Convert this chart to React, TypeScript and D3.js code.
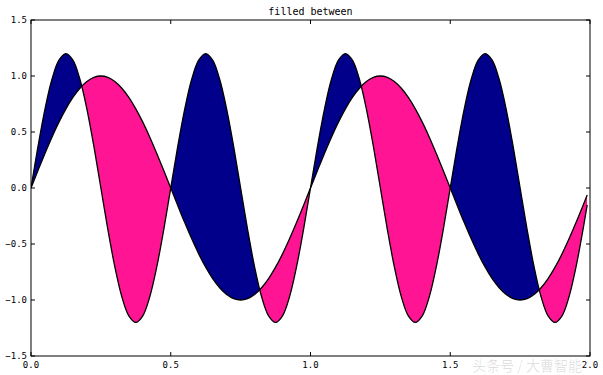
import * as d3 from "d3";

// x samples (last point is 1.99 like arange(0, 2, 0.01))
const xs = [
  0, 0.025, 0.05, 0.075, 0.1, 0.125, 0.15, 0.175, 0.2, 0.225,
  0.25, 0.275, 0.3, 0.325, 0.35, 0.375, 0.4, 0.425, 0.45, 0.475,
  0.5, 0.525, 0.55, 0.575, 0.6, 0.625, 0.65, 0.675, 0.7, 0.725,
  0.75, 0.775, 0.8, 0.825, 0.85, 0.875, 0.9, 0.925, 0.95, 0.975,
  1.0, 1.025, 1.05, 1.075, 1.1, 1.125, 1.15, 1.175, 1.2, 1.225,
  1.25, 1.275, 1.3, 1.325, 1.35, 1.375, 1.4, 1.425, 1.45, 1.475,
  1.5, 1.525, 1.55, 1.575, 1.6, 1.625, 1.65, 1.675, 1.7, 1.725,
  1.75, 1.775, 1.8, 1.825, 1.85, 1.875, 1.9, 1.925, 1.95, 1.975,
  1.99,
];

// slow wave (peaks at 1.0)
const y1 = [
  0, 0.156, 0.309, 0.454, 0.588, 0.707, 0.809, 0.891, 0.951, 0.988,
  1, 0.988, 0.951, 0.891, 0.809, 0.707, 0.588, 0.454, 0.309, 0.156,
  0, -0.156, -0.309, -0.454, -0.588, -0.707, -0.809, -0.891, -0.951, -0.988,
  -1, -0.988, -0.951, -0.891, -0.809, -0.707, -0.588, -0.454, -0.309, -0.156,
  0, 0.156, 0.309, 0.454, 0.588, 0.707, 0.809, 0.891, 0.951, 0.988,
  1, 0.988, 0.951, 0.891, 0.809, 0.707, 0.588, 0.454, 0.309, 0.156,
  0, -0.156, -0.309, -0.454, -0.588, -0.707, -0.809, -0.891, -0.951, -0.988,
  -1, -0.988, -0.951, -0.891, -0.809, -0.707, -0.588, -0.454, -0.309, -0.156,
  -0.063,
];

// fast wave (peaks at 1.2)
const y2 = [
  0, 0.371, 0.705, 0.971, 1.141, 1.2, 1.141, 0.971, 0.705, 0.371,
  0, -0.371, -0.705, -0.971, -1.141, -1.2, -1.141, -0.971, -0.705, -0.371,
  0, 0.371, 0.705, 0.971, 1.141, 1.2, 1.141, 0.971, 0.705, 0.371,
  0, -0.371, -0.705, -0.971, -1.141, -1.2, -1.141, -0.971, -0.705, -0.371,
  0, 0.371, 0.705, 0.971, 1.141, 1.2, 1.141, 0.971, 0.705, 0.371,
  0, -0.371, -0.705, -0.971, -1.141, -1.2, -1.141, -0.971, -0.705, -0.371,
  0, 0.371, 0.705, 0.971, 1.141, 1.2, 1.141, 0.971, 0.705, 0.371,
  0, -0.371, -0.705, -0.971, -1.141, -1.2, -1.141, -0.971, -0.705, -0.371,
  -0.15,
];

const xTicks = [0, 0.5, 1.0, 1.5, 2.0];
const yTicks = [-1.5, -1.0, -0.5, 0.0, 0.5, 1.0, 1.5];

const W = 603, H = 375;
const M = { left: 31, right: 13, top: 20, bottom: 19 };

export default function App() {
  const x = d3.scaleLinear().domain([0, 2]).range([M.left, W - M.right]);
  const y = d3.scaleLinear().domain([-1.5, 1.5]).range([H - M.bottom, M.top]);
  const pts = xs.map((v, i) => ({ x: v, a: y1[i], b: y2[i] }));
  const curve = d3.curveCatmullRom.alpha(0.5);

  const between = d3.area<typeof pts[0]>().x((d) => x(d.x)).y0((d) => y(d.a)).y1((d) => y(d.b)).curve(curve)(pts)!;
  const above = d3.area<typeof pts[0]>().x((d) => x(d.x)).y0((d) => y(d.a)).y1(() => y(1.6)).curve(curve)(pts)!;
  const below = d3.area<typeof pts[0]>().x((d) => x(d.x)).y0((d) => y(d.a)).y1(() => y(-1.6)).curve(curve)(pts)!;
  const lineA = d3.line<typeof pts[0]>().x((d) => x(d.x)).y((d) => y(d.a)).curve(curve)(pts)!;
  const lineB = d3.line<typeof pts[0]>().x((d) => x(d.x)).y((d) => y(d.b)).curve(curve)(pts)!;

  const [x0, x1] = x.range();
  const [yb, yt] = y.range();
  const fmt = d3.format(".1f");
  const tickFont = "'DejaVu Sans Mono', monospace";

  return (
    <svg width={W} height={H} style={{ position: "absolute", left: 0, top: 0, background: "#fff" }}>
      <defs>
        <clipPath id="up"><path d={above} /></clipPath>
        <clipPath id="down"><path d={below} /></clipPath>
        <clipPath id="plot"><rect x={x0} y={yt} width={x1 - x0} height={yb - yt} /></clipPath>
      </defs>
      <g clipPath="url(#plot)">
        <path d={between} fill="#00008b" clipPath="url(#up)" />
        <path d={between} fill="#ff1493" clipPath="url(#down)" />
        <path d={lineA} fill="none" stroke="#000" strokeWidth={1.3} />
        <path d={lineB} fill="none" stroke="#000" strokeWidth={1.3} />
      </g>
      <rect x={x0} y={yt} width={x1 - x0} height={yb - yt} fill="none" stroke="#000" strokeWidth={1} />
      {xTicks.map((t) => (
        <g key={"x" + t}>
          <line x1={x(t)} x2={x(t)} y1={yb} y2={yb - 4} stroke="#000" />
          <line x1={x(t)} x2={x(t)} y1={yt} y2={yt + 4} stroke="#000" />
          <text x={x(t)} y={yb + 12} textAnchor="middle" fontSize={9} fontFamily={tickFont}>{fmt(t)}</text>
        </g>
      ))}
      {yTicks.map((t) => (
        <g key={"y" + t}>
          <line x1={x0} x2={x0 + 4} y1={y(t)} y2={y(t)} stroke="#000" />
          <line x1={x1} x2={x1 - 4} y1={y(t)} y2={y(t)} stroke="#000" />
          <text x={x0 - 4} y={y(t) + 3} textAnchor="end" fontSize={9} fontFamily={tickFont}>{t < 0 ? "\u2212" + fmt(-t) : fmt(t)}</text>
        </g>
      ))}
      <text x={(x0 + x1) / 2} y={15} textAnchor="middle" fontSize={10} fontFamily={tickFont}>filled between</text>
      <text x={582} y={371} textAnchor="end" fontSize={14} fill="#000" fillOpacity={0.12} fontFamily="'Noto Sans CJK SC', sans-serif">头条号 / 大曹智能</text>
    </svg>
  );
}
